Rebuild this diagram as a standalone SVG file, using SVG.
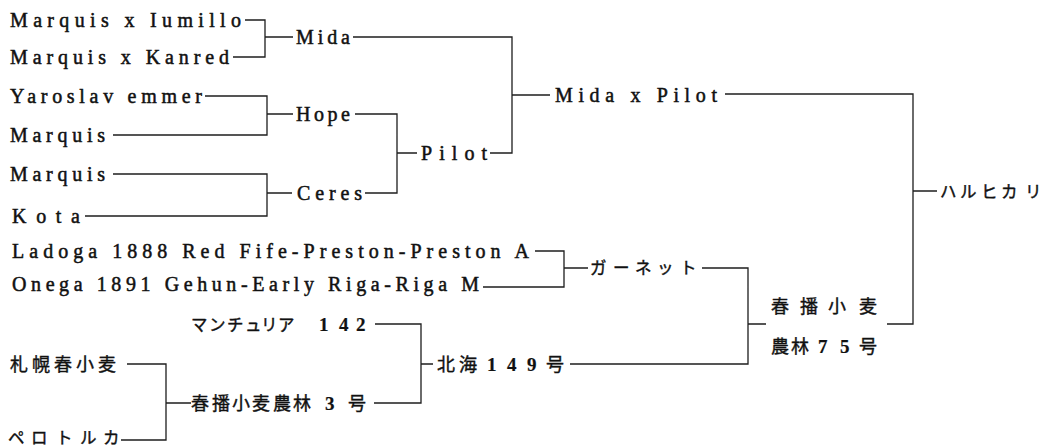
<svg xmlns="http://www.w3.org/2000/svg" width="1054" height="448" viewBox="0 0 1054 448">
<style>
.ln{fill:none;stroke:#1e1e1e;stroke-width:1.3}
.lt{font-family:"Liberation Serif","DejaVu Serif",serif;font-size:20px;fill:#111;stroke:#111;stroke-width:0.5}
.jp{font-family:"Noto Sans CJK JP","Noto Sans CJK SC",sans-serif;font-size:18px;fill:#111;stroke:#111;stroke-width:0.4}
.kt{font-size:16.5px}
.dg{font-family:"Liberation Serif","DejaVu Serif",serif;font-weight:bold;font-size:19px;stroke-width:0.2}
</style>
<rect width="1054" height="448" fill="#fff"/>
<g id="connectors">
<path class="ln" d="M245,20 H265 V57 H233 M265,37 H293 M353,37 H512 V153 H490 M512,95 H550"/>
<path class="ln" d="M205,96 H267 V135 H113 M267,114 H293 M355,114 H397 V193 H365 M113,174 H267 V216 H85 M267,193 H292 M397,153 H417"/>
<path class="ln" d="M725,94 H913 V324 H887 M913,191 H937"/>
<path class="ln" d="M535,251 H564 V287 H483 M564,268 H588 M702,268 H748 V364 H570 M748,324 H766"/>
<path class="ln" d="M375,324 H421 V403 H374 M421,364 H433 M127,364 H166 V440 H121 M166,403 H191"/>
</g>
<g id="n-marquis-iumillo"><text class="lt" x="10" y="27" textLength="231" lengthAdjust="spacing">Marquis x Iumillo</text></g>
<g id="n-marquis-kanred"><text class="lt" x="10" y="64" textLength="219" lengthAdjust="spacing">Marquis x Kanred</text></g>
<g id="n-mida"><text class="lt" x="296" y="44" textLength="54" lengthAdjust="spacing">Mida</text></g>
<g id="n-yaroslav"><text class="lt" x="10" y="102.5" textLength="192" lengthAdjust="spacing">Yaroslav emmer</text></g>
<g id="n-marquis1"><text class="lt" x="10" y="142" textLength="95" lengthAdjust="spacing">Marquis</text></g>
<g id="n-hope"><text class="lt" x="296" y="120.5" textLength="54" lengthAdjust="spacing">Hope</text></g>
<g id="n-marquis2"><text class="lt" x="10" y="180.5" textLength="95" lengthAdjust="spacing">Marquis</text></g>
<g id="n-kota"><text class="lt" x="12" y="222.5" textLength="68" lengthAdjust="spacing">Kota</text></g>
<g id="n-ceres"><text class="lt" x="297" y="199.5" textLength="65" lengthAdjust="spacing">Ceres</text></g>
<g id="n-pilot"><text class="lt" x="421" y="159.5" textLength="66" lengthAdjust="spacing">Pilot</text></g>
<g id="n-mida-pilot"><text class="lt" x="555" y="101.5" textLength="162" lengthAdjust="spacing">Mida x Pilot</text></g>
<g id="n-haruhikari"><text class="jp kt" x="940 960 981 1001 1025" y="197.5">ハルヒカリ</text></g>
<g id="n-ladoga"><text class="lt" x="12" y="258" textLength="517" lengthAdjust="spacing">Ladoga 1888 Red Fife-Preston-Preston A</text></g>
<g id="n-onega"><text class="lt" x="12" y="291" textLength="467" lengthAdjust="spacing">Onega 1891 Gehun-Early Riga-Riga M</text></g>
<g id="n-garnet"><text class="jp kt" x="590 613 635 657 680" y="273.5">ガーネット</text></g>
<g id="n-haruma75"><text class="jp" y="313"><tspan x="771 800 828 859">春播小麦</tspan></text><text class="jp" y="353"><tspan x="771 791">農林</tspan><tspan class="dg" x="818 840">75</tspan><tspan x="859">号</tspan></text></g>
<g id="n-manchuria"><text class="jp" y="331"><tspan class="kt" x="191 209 227 245 261 278 300">マンチュリア </tspan><tspan class="dg" x="319 339 356">142</tspan></text></g>
<g id="n-hokkai149"><text class="jp" y="371"><tspan x="437 459">北海</tspan><tspan class="dg" x="487 507 527">149</tspan><tspan x="546">号</tspan></text></g>
<g id="n-sapporo"><text class="jp" x="10 32 54 76 98" y="371">札幌春小麦</text></g>
<g id="n-norin3"><text class="jp" y="410"><tspan x="191 212 232 252 273 293">春播小麦農林</tspan><tspan class="dg" x="325">3</tspan><tspan x="348">号</tspan></text></g>
<g id="n-perotoruka"><text class="jp kt" x="8 31 56 80 103" y="444">ペロトルカ</text></g>
</svg>
